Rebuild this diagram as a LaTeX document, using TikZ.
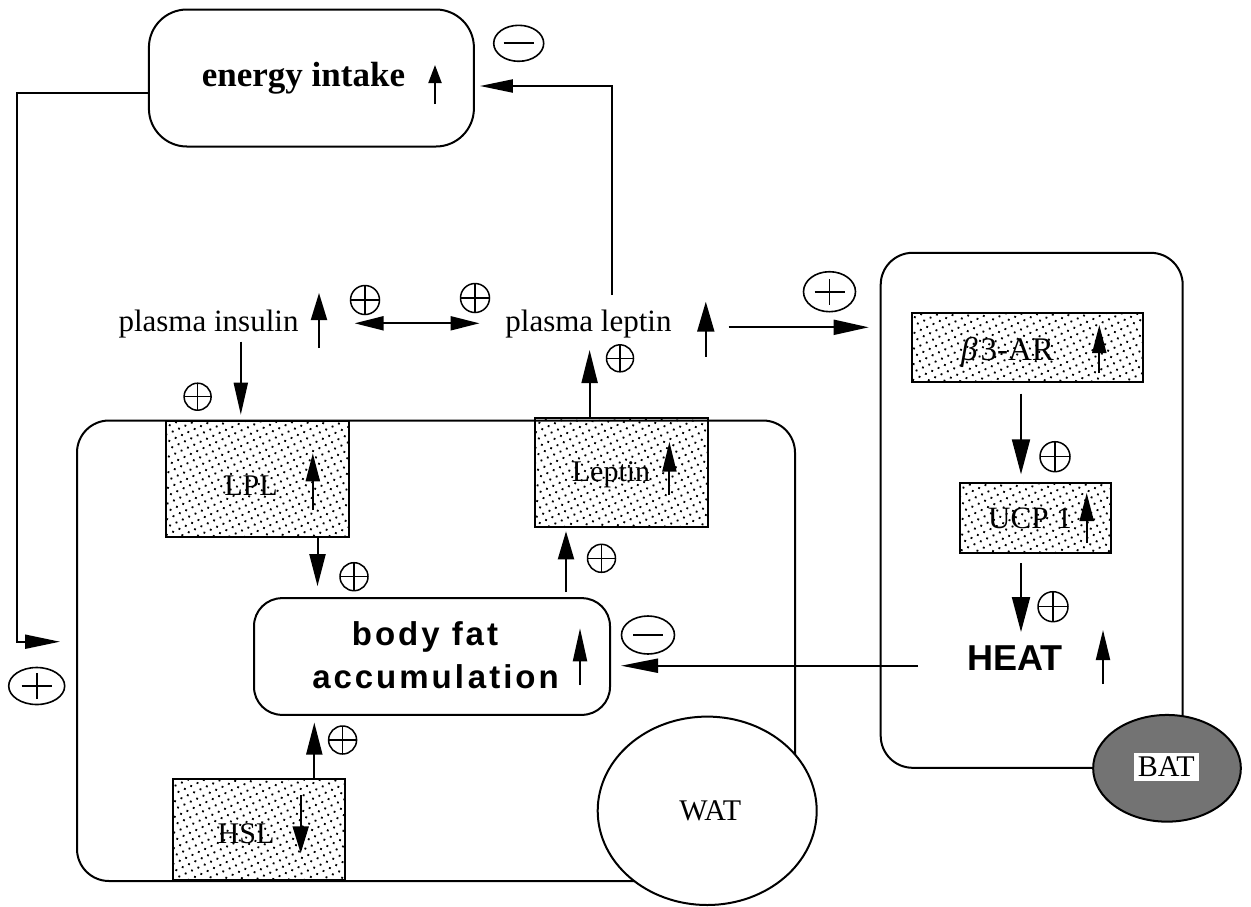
\documentclass[tikz,border=0pt]{standalone}
\usepackage{fontspec}
\setmainfont{Liberation Serif}
\setsansfont{Liberation Sans}
\newfontfamily\spsans[LetterSpace=9]{Liberation Sans}
\usetikzlibrary{arrows.meta,shapes.geometric,patterns.meta}
\newcommand\fs[1]{\fontsize{#1}{#1}\selectfont}
\tikzset{
  ln/.style={line width=2pt},
  arr/.style={ln,-{Triangle[length=32pt,width=15pt]}},
  indarr/.style={ln,-{Triangle[length=28pt,width=14pt]}},
  rbox/.style={draw,ln,rounded corners=30pt,inner sep=0pt},
  dotbox/.style={draw,ln,inner sep=0pt,pattern={Dots[distance=7pt,radius=1.3pt,angle=25]}},
  lbl/.style={inner sep=0pt,anchor=base},
  smallsign/.style={circle,draw,line width=1.5pt,minimum size=29pt,inner sep=0pt},
  bigsign/.style={ellipse,draw,line width=1.6pt,inner sep=0pt,minimum width=53pt,minimum height=38pt},
  plusfull/.style={path picture={\draw[line width=1.5pt]
     (path picture bounding box.north) -- (path picture bounding box.south)
     (path picture bounding box.west) -- (path picture bounding box.east);}},
  plusbig/.style={path picture={\draw[line width=1.8pt]
     ([xshift=-15pt]path picture bounding box.center) -- ([xshift=15pt]path picture bounding box.center)
     ([yshift=-13pt]path picture bounding box.center) -- ([yshift=13pt]path picture bounding box.center);}},
  minusbig/.style={path picture={\draw[line width=1.8pt]
     ([xshift=-15pt]path picture bounding box.center) -- ([xshift=15pt]path picture bounding box.center);}},
}
\begin{document}
\begin{tikzpicture}[x=1pt,y=-1pt]
\useasboundingbox (0,0) rectangle (1251,906);
% ---------- energy intake ----------
\node[rbox,rounded corners=38pt,minimum width=325pt,minimum height=137pt] (energy) at (311.4,78) {};
\node[lbl] (energytxt) at (303.5,86) {\fs{35}\bfseries energy intake};
\coordinate (ei1) at (435,104); \coordinate (ei2) at (435,65);
\draw[ln,-{Triangle[length=18pt,width=13pt]}] (ei1) -- (ei2);
\node[bigsign,minusbig,minimum width=50pt,minimum height=36pt] (m1) at (518.7,43.3) {};
% ---------- left feedback loop ----------
\coordinate (loopA) at (16.7,93);
\coordinate (loopB) at (16.7,641.7);
\coordinate (loopEnd) at (60,641.7);
\draw[ln,-{Triangle[length=35pt,width=14pt]}] (energy.west |- loopA) -- (loopA) -- (loopB) -- (loopEnd);
\node[bigsign,plusbig,minimum width=56pt,minimum height=37pt] (p0) at (36.7,686) {};
% ---------- plasma insulin / leptin ----------
\node[lbl] (pins) at (208.5,331.5) {\fs{31}plasma insulin};
\coordinate (pi1) at (319,348); \coordinate (pi2) at (319,293);
\draw[ln,-{Triangle[length=27pt,width=16pt]}] (pi1) -- (pi2);
\node[smallsign,plusfull] (p1) at (365,300) {};
\node[smallsign,plusfull] (p2) at (475,298) {};
\coordinate (da1) at (354.6,323.3); \coordinate (da2) at (479.5,323.3);
\draw[ln,{Triangle[length=29pt,width=14pt]}-{Triangle[length=29pt,width=14pt]}] (da1) -- (da2);
\node[lbl] (plep) at (588.5,331) {\fs{31}plasma leptin};
\coordinate (pl1) at (705.8,356.7); \coordinate (pl2) at (705.8,301.7);
\draw[ln,-{Triangle[length=30pt,width=17pt]}] (pl1) -- (pl2);
\node[smallsign,plusfull,minimum size=27pt] (p3) at (620,358.3) {};
% leptin -> energy intake
\coordinate (lepTop) at (612,295);
\coordinate (lepTurn) at (612,86);
\draw[ln,-{Triangle[length=33pt,width=13pt]}] (lepTop) -- (lepTurn) -- ([xshift=5pt]energy.east |- lepTurn);
% ---------- BAT box ----------
\node[rbox,rounded corners=32pt,minimum width=302pt,minimum height=515pt] (bat) at (1031.7,510.3) {};
\coordinate (plepR) at (728.7,327.3);
\draw[ln,-{Triangle[length=35pt,width=15pt]},shorten >=11pt] (plepR) -- (plepR -| bat.west);
\node[bigsign,plusbig,minimum width=52pt,minimum height=40pt] (p4) at (829.5,291.7) {};
% ---------- WAT box ----------
\node[rbox,rounded corners=32pt,minimum width=718pt,minimum height=460.5pt] (wat) at (436,650.75) {};
% insulin -> LPL
\node[dotbox,minimum width=183pt,minimum height=116pt] (lpl) at (257.9,478.7) {};
\coordinate (insB) at (240.8,341.7);
\draw[ln,-{Triangle[length=32pt,width=14pt]},shorten >=5pt] (insB) -- (insB |- lpl.north);
\node[smallsign,plusfull,minimum size=27pt] (p5) at (197.6,396.7) {};
\node[lbl] (lpltxt) at (251,495) {\fs{30}LPL};
\coordinate (lp1) at (312.8,510); \coordinate (lp2) at (312.8,453.3);
\draw[indarr] (lp1) -- (lp2);
% Leptin box
\node[dotbox,minimum width=173pt,minimum height=109pt] (lepbox) at (621,472.8) {};
\node[lbl] (leptxt) at (611,481) {\fs{30}Leptin};
\coordinate (lb1) at (669.4,495); \coordinate (lb2) at (669.4,441.7);
\draw[ln,-{Triangle[length=30pt,width=14pt]}] (lb1) -- (lb2);
\coordinate (plepB) at (589.6,350);
\draw[ln,-{Triangle[length=33pt,width=16pt]}] (plepB |- lepbox.north) -- (plepB);
% body fat accumulation
\node[rbox,rounded corners=28pt,minimum width=356pt,minimum height=116.7pt] (body) at (432,656.5) {};
\node[lbl] (bf1) at (425,645) {\fs{33}\spsans\bfseries body fat};
\node[lbl] (bf2) at (435.5,688.3) {\fs{33}\spsans\bfseries accumul\kern4pt ation};
\coordinate (bi1) at (580,685); \coordinate (bi2) at (580,628.3);
\draw[ln,-{Triangle[length=33pt,width=14pt]}] (bi1) -- (bi2);
\coordinate (lplX) at (317.5,0);
\draw[ln,-{Triangle[length=32pt,width=16pt]},shorten >=11pt] (lplX |- lpl.south) -- (lplX |- body.north);
\node[smallsign,plusfull,minimum size=28pt] (p6) at (354,576.7) {};
\coordinate (bodyX) at (566,0);
\draw[ln,-{Triangle[length=28pt,width=16pt]},shorten <=5pt,shorten >=3pt] (bodyX |- body.north) -- (bodyX |- lepbox.south);
\node[smallsign,plusfull,minimum size=28pt] (p7) at (601.5,558.3) {};
\node[bigsign,minusbig,minimum width=53pt,minimum height=38pt] (m2) at (648,635) {};
% HSL
\node[dotbox,minimum width=172.6pt,minimum height=100.7pt] (hsl) at (258.9,829.7) {};
\node[lbl] (hsltxt) at (246,843) {\fs{30}HSL};
\coordinate (hs1) at (300.7,795); \coordinate (hs2) at (300.7,853.3);
\draw[ln,-{Triangle[length=27pt,width=16pt]}] (hs1) -- (hs2);
\coordinate (hslX) at (314.3,0);
\draw[ln,-{Triangle[length=32pt,width=16pt]},shorten >=6.7pt] (hslX |- hsl.north) -- (hslX |- body.south);
\node[smallsign,plusfull,minimum size=28pt] (p8) at (342.6,740) {};
% WAT circle
\node[ellipse,draw,ln,fill=white,minimum width=219pt,minimum height=188.4pt,inner sep=0pt] (watc) at (707.2,810.8) {};
\node[lbl] (wattxt) at (710.3,820) {\fs{30}WAT};
% ---------- inside BAT ----------
\node[dotbox,minimum width=231pt,minimum height=69pt] (b3) at (1027.8,347.2) {};
\node[lbl] (b3txt) at (1007.5,360) {\fs{33}\textit{β}\kern3pt3-AR};
\coordinate (bb1) at (1099.3,373); \coordinate (bb2) at (1099.3,325);
\draw[indarr] (bb1) -- (bb2);
\node[dotbox,minimum width=150.7pt,minimum height=70pt] (ucp) at (1035.3,518.3) {};
\node[lbl] (ucptxt) at (1030,528.3) {\fs{31}UCP 1};
\coordinate (uc1) at (1086.7,543); \coordinate (uc2) at (1086.7,493);
\draw[indarr] (uc1) -- (uc2);
\coordinate (bX) at (1021,0);
\draw[ln,-{Triangle[length=35pt,width=18pt]},shorten <=11pt,shorten >=8pt] (bX |- b3.south) -- (bX |- ucp.north);
\node[smallsign,plusfull,minimum size=30pt] (p9) at (1055,456.7) {};
\node[lbl] (heat) at (1015,670) {\fs{36}\sffamily\bfseries HEAT};
\coordinate (ucX) at (1021,632);
\draw[ln,-{Triangle[length=35pt,width=18pt]},shorten <=9pt] (ucX |- ucp.south) -- (ucX);
\node[smallsign,plusfull,minimum size=30pt] (p10) at (1053,606.7) {};
\coordinate (he1) at (1103,684); \coordinate (he2) at (1103,630);
\draw[ln,-{Triangle[length=30pt,width=14pt]}] (he1) -- (he2);
% HEAT -> body fat
\coordinate (heatL) at (918,665.7);
\draw[ln,-{Triangle[length=37pt,width=14pt]},shorten >=10pt] (heatL) -- (heatL -| body.east);
% BAT ellipse
\node[ellipse,draw,ln,fill=black!55,minimum width=147.7pt,minimum height=106.7pt,inner sep=0pt] (batc) at (1167,768.3) {};
\node[inner xsep=4pt,inner ysep=4pt,fill=white,anchor=base] (battxt) at (1166.3,776.7) {\fs{30}BAT};
\end{tikzpicture}
\end{document}
